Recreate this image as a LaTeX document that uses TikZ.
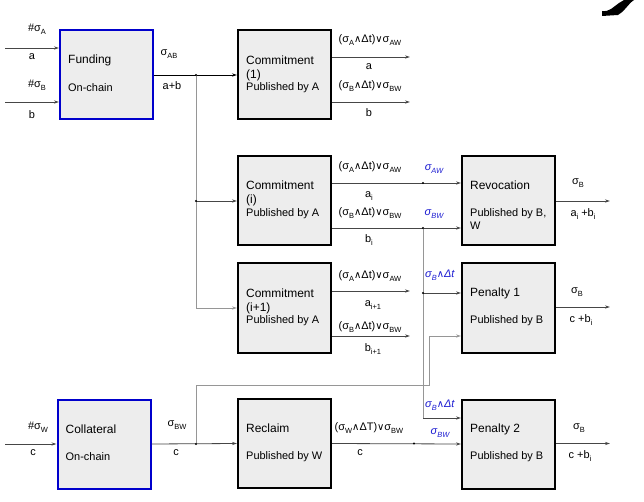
\documentclass[tikz,border=0pt]{standalone}
\usepackage{fontspec}
\setmainfont{Liberation Sans}
\newfontfamily\symfont{DejaVu Sans}
\usetikzlibrary{arrows.meta,calc}
\definecolor{boxgray}{RGB}{237,237,237}
\definecolor{bblue}{RGB}{0,0,204}
\definecolor{lblue}{RGB}{30,30,210}
\definecolor{conngray}{RGB}{70,70,70}
\definecolor{lightconn}{RGB}{150,150,150}
\newcommand{\sbs}[1]{\raisebox{-0.45ex}{\fontsize{7.5}{8}\selectfont #1}}
\newcommand{\sg}[1]{σ\sbs{#1}}
\newcommand{\myand}{{\symfont\fontsize{10}{10}\selectfont ∧}}
\newcommand{\myor}{{\symfont\fontsize{10}{10}\selectfont ∨}}
\newcommand{\bsg}[1]{\textcolor{lblue}{\textit{σ\sbs{#1}}}}
\begin{document}
\begin{tikzpicture}[x=1bp,y=-1bp,
  box/.style={draw=black, line width=2bp, fill=boxgray, minimum width=93bp, minimum height=89bp, inner sep=0pt},
  chainbox/.style={box, draw=bblue},
  title/.style={anchor=west, inner sep=0pt, font=\fontsize{12}{13}\selectfont},
  sub/.style={anchor=west, inner sep=0pt, font=\fontsize{11}{12}\selectfont},
  lab/.style={inner sep=0pt, font=\fontsize{11}{12}\selectfont},
  conn/.style={draw=conngray, line width=0.8bp, -{Stealth[length=5bp,width=3.2bp]}},
  lconn/.style={draw=lightconn, line width=0.8bp, -{Stealth[length=5bp,width=3.2bp]}},
  plain/.style={draw=conngray, line width=0.8bp},
  lplain/.style={draw=lightconn, line width=0.8bp},
  dot/.style={circle, fill=black, inner sep=0pt, minimum size=2.4bp}
]
\useasboundingbox (0,0) rectangle (644,502);
\fill[white] (0,0) rectangle (644,502);

% boxes
\node[chainbox] (fund) at (106.5,75) {};
\node[box] (c1) at (284.5,75) {};
\node[box] (ci) at (284.5,200.5) {};
\node[box] (rev) at (508.5,200.5) {};
\node[box] (ci1) at (284.5,308) {};
\node[box] (p1) at (508.5,308) {};
\node[chainbox] (coll) at (104,444) {};
\node[box] (recl) at (284.5,443.5) {};
\node[box] (p2) at (508.5,444) {};

% box texts
\node[title] (fundt) at ($(fund.west)+(9,-15)$) {Funding};
\node[sub] (funds) at ($(fund.west)+(9,13)$) {On-chain};
\node[title] (c1t) at ($(c1.west)+(9,-15)$) {Commitment};
\node[title] (c1n) at ($(c1.west)+(9,0)$) {(1)};
\node[sub] (c1s) at ($(c1.west)+(9,13)$) {Published by A};
\node[title] (cit) at ($(ci.west)+(9,-15)$) {Commitment};
\node[title] (cin) at ($(ci.west)+(9,0)$) {(i)};
\node[sub] (cis) at ($(ci.west)+(9,13)$) {Published by A};
\node[title] (ci1t) at ($(ci1.west)+(9,-15)$) {Commitment};
\node[title] (ci1n) at ($(ci1.west)+(9,0)$) {(i+1)};
\node[sub] (ci1s) at ($(ci1.west)+(9,13)$) {Published by A};
\node[title] (revt) at ($(rev.west)+(9,-15.5)$) {Revocation};
\node[sub] (revs) at ($(rev.west)+(9,13.5)$) {Published by B,};
\node[sub] (revw) at ($(rev.west)+(9,25.5)$) {W};
\node[title] (p1t) at ($(p1.west)+(9,-15)$) {Penalty 1};
\node[sub] (p1s) at ($(p1.west)+(9,13)$) {Published by B};
\node[title] (collt) at ($(coll.west)+(9,-15)$) {Collateral};
\node[sub] (colls) at ($(coll.west)+(9,13)$) {On-chain};
\node[title] (reclt) at ($(recl.west)+(9,-15)$) {Reclaim};
\node[sub] (recls) at ($(recl.west)+(9,13)$) {Published by W};
\node[title] (p2t) at ($(p2.west)+(9,-15)$) {Penalty 2};
\node[sub] (p2s) at ($(p2.west)+(9,13)$) {Published by B};

% free ends and junctions
\coordinate (inA) at (5,48);
\coordinate (inB) at (5,102);
\coordinate (inW) at (5,444);
\coordinate (j1) at (196,75);
\coordinate (j2) at (196,201);
\coordinate (j3) at (196,308);
\coordinate (c1a) at (410,57);
\coordinate (c1b) at (410,102);
\coordinate (ci1a) at (410,291);
\coordinate (ci1b) at (410,336);
\coordinate (ja) at (423,183);
\coordinate (jb) at (423,228);
\coordinate (jc) at (423,293);
\coordinate (jd) at (423,418);
\coordinate (k1) at (196,444);
\coordinate (k2) at (196,385);
\coordinate (k3) at (429,385);
\coordinate (k4) at (429,336);
\coordinate (jr) at (414,443.5);
\coordinate (revo) at (610,201);
\coordinate (p1o) at (610,307);
\coordinate (p2o) at (610,443.5);

% funding inputs/outputs
\draw[conn] (inA) -- (fund.west |- inA);
\draw[conn] (inB) -- (fund.west |- inB);
\draw[conn, draw=black] (fund.east) -- (c1.west);
\draw[lplain] (j1) -- (j3);
\draw[conn] (j2) -- (ci.west |- j2);
\draw[lconn] (j3) -- (ci1.west |- j3);

% commitment outputs
\draw[conn] (c1.east |- c1a) -- (c1a);
\draw[conn] (c1.east |- c1b) -- (c1b);
\draw[conn] (ci.east |- ja) -- (rev.west |- ja);
\draw[conn] (ci.east |- jb) -- (rev.west |- jb);
\draw[conn] (ci1.east |- ci1a) -- (ci1a);
\draw[conn] (ci1.east |- ci1b) -- (ci1b);

% branch to penalties
\draw[lplain] (jb) -- (jd);
\draw[conn] (jc) -- (p1.west |- jc);
\draw[conn] (jd) -- (p2.west |- jd);

% collateral
\draw[conn] (inW) -- (coll.west);
\draw[conn] (coll.east) -- (recl.west);
\draw[lplain] (k1) -- (k2) -- (k3) -- (k4);
\draw[lconn] (k4) -- (p1.west |- k4);
\draw[conn] (recl.east) -- (p2.west);

% outputs
\draw[conn] (rev.east |- revo) -- (revo);
\draw[conn] (p1.east |- p1o) -- (p1o);
\draw[conn] (p2.east |- p2o) -- (p2o);

% dots
\foreach \d in {j1,j2,ja,jb,jc,k1,jr} \node[dot] (dot-\d) at (\d) {};

% labels
\node[lab] (lA) at (37,29) {\#\sg{A}};
\node[lab] (la) at (32,57) {a};
\node[lab] (lB) at (37,85) {\#\sg{B}};
\node[lab] (lb) at (32,115) {b};
\node[lab] (lAB) at (169,54) {\sg{AB}};
\node[lab] (lab1) at (172,86) {a+b};

\node[lab] (c1l1) at (370,40) {(\sg{A}\myand Δt)\myor\sg{AW}};
\node[lab] (c1l2) at (369,67) {a};
\node[lab] (c1l3) at (370,86) {(\sg{B}\myand Δt)\myor\sg{BW}};
\node[lab] (c1l4) at (369,113) {b};

\node[lab] (cil1) at (370,167) {(\sg{A}\myand Δt)\myor\sg{AW}};
\node[lab] (cil2) at (369,196) {a\sbs{i}};
\node[lab] (cil3) at (370,213) {(\sg{B}\myand Δt)\myor\sg{BW}};
\node[lab] (cil4) at (369,240) {b\sbs{i}};
\node[lab] (cib1) at (434,169) {\bsg{AW}};
\node[lab] (cib2) at (434,214) {\bsg{BW}};

\node[lab] (ci1l1) at (370,276) {(\sg{A}\myand Δt)\myor\sg{AW}};
\node[lab] (ci1l2) at (373,305) {a\sbs{i+1}};
\node[lab] (ci1l3) at (370,327) {(\sg{B}\myand Δt)\myor\sg{BW}};
\node[lab] (ci1l4) at (373,349) {b\sbs{i+1}};
\node[lab] (pb1) at (440,275) {\textcolor{lblue}{\textit{σ\sbs{B}{\symfont\fontsize{10}{10}\selectfont ∧}Δt}}};

\node[lab] (revl1) at (578,183) {\sg{B}};
\node[lab] (revl2) at (583,214) {a\sbs{i} +b\sbs{i}};
\node[lab] (p1l1) at (577,292) {\sg{B}};
\node[lab] (p1l2) at (581,320) {c +b\sbs{i}};

\node[lab] (lW) at (38,427) {\#\sg{W}};
\node[lab] (lc) at (33,453) {c};
\node[lab] (lBW) at (177,425) {\sg{BW}};
\node[lab] (lc2) at (176,453) {c};

\node[lab] (rl1) at (369,428) {(\sg{W}\myand ΔT)\myor\sg{BW}};
\node[lab] (rl2) at (360,453) {c};
\node[lab] (pb2) at (440,405) {\textcolor{lblue}{\textit{σ\sbs{B}{\symfont\fontsize{10}{10}\selectfont ∧}Δt}}};
\node[lab] (rb) at (440,433) {\bsg{BW}};
\node[lab] (p2l1) at (579,428) {\sg{B}};
\node[lab] (p2l2) at (580,456) {c +b\sbs{i}};

% cropped mark at top right
\fill[black] (602,11) .. controls (610,12) and (613,7) .. (619,3) -- (624,0) -- (634,0) .. controls (628,4) and (624,12) .. (618,15) -- (602,16) -- cycle;
\end{tikzpicture}
\end{document}
